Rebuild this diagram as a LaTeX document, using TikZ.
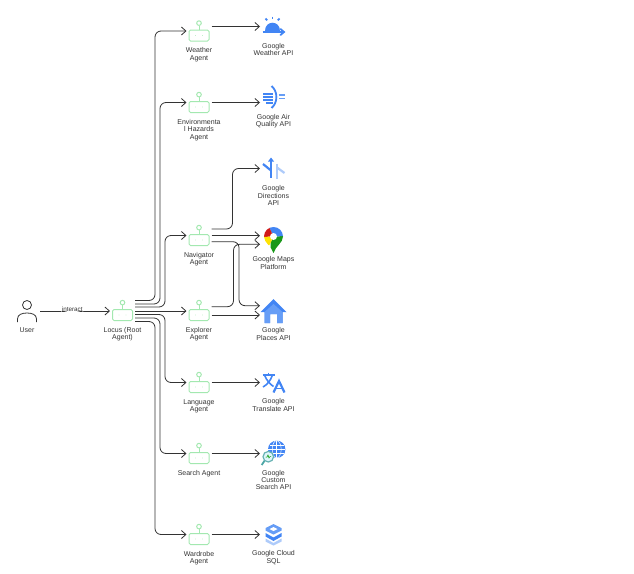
\documentclass[tikz,border=0pt]{standalone}
\usepackage{fontspec}
\setmainfont{Liberation Sans}
\usepackage{xcolor}
\usetikzlibrary{positioning,arrows.meta}
\definecolor{agentgreen}{HTML}{A3E8B0}
\definecolor{gblue}{HTML}{4285F4}
\definecolor{gmid}{HTML}{669DF6}
\definecolor{glight}{HTML}{AECBFA}
\definecolor{inkgrey}{HTML}{333333}

\begin{document}
\begin{tikzpicture}[
x=1pt, y=-1pt,
>={Straight Barb[length=4.5pt,width=8pt]},
agent/.style={rectangle, draw=agentgreen, line width=1pt, rounded corners=1.5pt, minimum width=20pt, minimum height=11pt, inner sep=0pt, outer xsep=2.5pt, outer ysep=0pt},
api/.style={rectangle, minimum width=27pt, minimum height=20pt, inner sep=0pt, outer sep=0pt},
lab/.style={align=center, inner sep=0pt, text=inkgrey, font=\fontsize{7}{7.4}\selectfont},
conn/.style={->, draw=inkgrey, line width=0.8pt, rounded corners=6pt},
icon/.style={line width=1.8pt, draw=gblue}
]
\useasboundingbox (0,0) rectangle (634,573);

\node[agent](locus) at (122.5,315){};
\node[api, minimum width=26pt](user)[left of = locus, node distance=95.5pt, yshift=4pt]{};
\node[agent](explorer)[right of = locus, node distance=76.5pt]{};
\node[agent](navigator)[above of = explorer, node distance=75pt]{};
\node[agent](enviro)[above of = navigator, node distance=133pt]{};
\node[agent](weather)[above of = enviro, node distance=71.5pt]{};
\node[agent](language)[below of = explorer, node distance=72pt]{};
\node[agent](search)[below of = language, node distance=71pt]{};
\node[agent](wardrobe)[below of = search, node distance=81pt]{};

\node[api](weather_api) at (273.5,26.5){};
\node[api](air_api)[below of = weather_api, node distance=70.5pt]{};
\node[api](directions_api)[below of = air_api, node distance=71.5pt]{};
\node[api](maps_api)[below of = directions_api, node distance=71.5pt]{};
\node[api](places_api)[below of = maps_api, node distance=71pt]{};
\node[api](translate_api)[below of = places_api, node distance=71.5pt]{};
\node[api](custom_api)[below of = translate_api, node distance=71pt]{};
\node[api](sql_api)[below of = custom_api, node distance=81pt]{};

\node[lab](user_lab)[below of = user, node distance=19pt]{User};
\node[lab](locus_lab)[below=6.5pt of locus]{Locus (Root\\Agent)};
\node[lab](weather_lab)[below=6.5pt of weather]{Weather\\Agent};
\node[lab](enviro_lab)[below=6.5pt of enviro]{Environmenta\\l Hazards\\Agent};
\node[lab](navigator_lab)[below=6.5pt of navigator]{Navigator\\Agent};
\node[lab](explorer_lab)[below=6.5pt of explorer]{Explorer\\Agent};
\node[lab](language_lab)[below=6.5pt of language]{Language\\Agent};
\node[lab](search_lab)[below=6.5pt of search]{Search Agent};
\node[lab](wardrobe_lab)[below=6.5pt of wardrobe]{Wardrobe\\Agent};

\node[lab](weather_api_lab)[below of = weather_api, node distance=23pt]{Google\\Weather API};
\node[lab](air_api_lab)[below of = air_api, node distance=24pt]{Google Air\\Quality API};
\node[lab](directions_api_lab)[below of = directions_api, node distance=27pt]{Google\\Directions\\API};
\node[lab](maps_api_lab)[below of = maps_api, node distance=23pt]{Google Maps\\Platform};
\node[lab](places_api_lab)[below of = places_api, node distance=23pt]{Google\\Places API};
\node[lab](translate_api_lab)[below of = translate_api, node distance=22.5pt]{Google\\Translate API};
\node[lab](custom_api_lab)[below of = custom_api, node distance=26.5pt]{Google\\Custom\\Search API};
\node[lab](sql_api_lab)[below of = sql_api, node distance=23pt]{Google Cloud\\SQL};

\foreach \a in {locus,weather,enviro,navigator,explorer,language,search,wardrobe}{
  \draw[agentgreen, line width=1pt] (\a.north) -- ++(0,-4.5);
  \draw[agentgreen, line width=1pt] ([yshift=6.9pt]\a.north) circle (2.3pt);
  \fill[agentgreen] ([xshift=-3.5pt]\a.center) circle (0.45pt);
  \fill[agentgreen] ([xshift=3.5pt]\a.center) circle (0.45pt);
}

\draw[conn] (user.east) -- node[lab, pos=0.46, name=interact_lab, fill=white, yshift=1.5pt, inner xsep=0.5pt, font=\fontsize{6.3}{7}\selectfont]{interact} ([yshift=4pt]locus.west);
\draw[conn] ([yshift=14.5pt]locus.east) -- ++(20,0) |- ([yshift=4.5pt]weather.west);
\draw[conn] ([yshift=11pt]locus.east) -- ++(25,0) |- ([yshift=4.5pt]enviro.west);
\draw[conn] ([yshift=8pt]locus.east) -- ++(30,0) |- ([yshift=4.5pt]navigator.west);
\draw[conn] ([yshift=4pt]locus.east) -- ([yshift=4pt]explorer.west);
\draw[conn] ([yshift=0.5pt]locus.east) -- ++(30,0) |- ([yshift=4.5pt]language.west);
\draw[conn] ([yshift=-3pt]locus.east) -- ++(25,0) |- ([yshift=4.5pt]search.west);
\draw[conn] ([yshift=-6.5pt]locus.east) -- ++(20,0) |- ([yshift=4.5pt]wardrobe.west);

\draw[conn] ([yshift=9pt]weather.east) -- (weather_api.west);
\draw[conn] ([yshift=4.5pt]enviro.east) -- ([yshift=-5.5pt]air_api.west);
\draw[conn] ([yshift=11pt]navigator.east) -- ++(21,0) |- (directions_api.west);
\draw[conn] ([yshift=4.3pt]navigator.east) -- ([yshift=4.3pt]maps_api.west);
\draw[conn] ([yshift=-1.7pt]navigator.east) -- ++(27.5,0) |- ([yshift=5.3pt]places_api.west);
\draw[conn] ([yshift=8.3pt]explorer.east) -- ++(22,0) |- ([yshift=-4.3pt]maps_api.west);
\draw[conn] (explorer.east) -- ([yshift=-4pt]places_api.west);
\draw[conn] ([yshift=4.5pt]language.east) -- (translate_api.west);
\draw[conn] ([yshift=4.5pt]search.east) -- (custom_api.west);
\draw[conn] ([yshift=4.5pt]wardrobe.east) -- (sql_api.west);

\begin{scope}[shift={(user)}]
\draw[inkgrey, line width=0.8pt] (0,-6) circle (4.5pt);
\draw[inkgrey, line width=0.8pt] (-9.5,11) -- (-9.5,8) .. controls (-9.5,3.5) and (-5,2) .. (0,2) .. controls (5,2) and (9.5,3.5) .. (9.5,8) -- (9.5,11);
\end{scope}

\begin{scope}[shift={(weather_api)}]
\fill[gblue] (-8.5,4) .. controls (-8.5,-7) and (6.5,-7) .. (6.5,4) -- cycle;
\draw[icon, line width=2pt] (-11,5.5) -- (10,5.5);
\draw[icon, line cap=round] (7,2.5) -- (10.5,5.5) -- (7,8.5);
\draw[icon] (-1,-10) -- (-1,-7.5);
\draw[icon] (-8,-8) -- (-6.3,-6.2);
\draw[icon] (6,-8) -- (4.3,-6.2);
\end{scope}

\begin{scope}[shift={(air_api)}]
\draw[icon, line width=1.4pt] (-10.5,-3) -- (-1,-3);
\draw[icon, line width=1.4pt] (-10.5,0) -- (-1,0);
\draw[icon, line width=1.4pt] (-10.5,3) -- (-1,3);
\draw[icon, line width=1.4pt] (-7.5,6) -- (-1,6);
\draw[icon] (-2,-11) .. controls (4.5,-6) and (4.5,6) .. (-2,11);
\draw[icon, line width=1.4pt, draw=gmid] (5,-2) -- (11,-2);
\draw[icon, line width=1.4pt, draw=gmid] (5,1.5) -- (11,1.5);
\end{scope}

\begin{scope}[shift={(directions_api)}]
\draw[icon, line width=2.2pt, draw=glight] (3.5,-5) -- (3.5,10.5);
\draw[icon, line width=2.2pt, draw=glight] (11,4.5) -- (3.5,-1);
\draw[icon, line width=2.2pt] (-2.5,-8) -- (-2.5,9);
\draw[icon, line width=2.2pt] (-10.5,-4.5) -- (-2.5,2);
\fill[gblue] (-2.5,-11) -- (0.5,-7) -- (-5.5,-7) -- cycle;
\end{scope}

\begin{scope}[shift={(maps_api)}]
\begin{scope}
\clip (0,13) .. controls (-2,6) and (-9.5,3) .. (-9.5,-3.5) .. controls (-9.5,-9) and (-5,-13) .. (0,-13) .. controls (5,-13) and (9.5,-9) .. (9.5,-3.5) .. controls (9.5,3) and (2,6) .. (0,13) -- cycle;
\fill[green!55!black!90!white] (12,-4) -- (0,-3.5) -- (-3,3) -- (-3,14) -- (12,14) -- cycle;
\fill[gblue] (-5,-14) -- (12,-14) -- (12,-4) -- (0,-3.5) -- cycle;
\fill[red!80!black!90!white] (-12,-14) -- (-5,-14) -- (0,-3.5) -- (-12,-3) -- cycle;
\fill[yellow!85!orange] (-12,-3) -- (0,-3.5) -- (-4,5) -- (-12,5) -- cycle;
\end{scope}
\fill[white] (0,-3.5) circle (3.5pt);
\end{scope}

\begin{scope}[shift={(places_api)}]
\fill[gblue] (0,-12) -- (13,1) -- (9,1) -- (9,12) -- (3.5,12) -- (3.5,3) -- (-3.5,3) -- (-3.5,12) -- (-9,12) -- (-9,1) -- (-13,1) -- cycle;
\fill[gmid] (0,-7) -- (9,1) -- (9,12) -- (3.5,12) -- (3.5,3) -- (-3.5,3) -- (-3.5,12) -- (-9,12) -- (-9,1) -- cycle;
\end{scope}

\begin{scope}[shift={(translate_api)}]
\draw[icon, line width=1.6pt] (-11,-7.5) -- (1,-7.5);
\draw[icon, line width=1.6pt] (-5,-10) -- (-5,-7.5);
\draw[icon, line width=1.6pt] (-9,-7.5) .. controls (-7,-2) and (-3,2) .. (0,4);
\draw[icon, line width=1.6pt] (-1,-7.5) .. controls (-3,-2) and (-6,2) .. (-10.5,4.5);
\draw[icon, line width=2.2pt] (0,10) -- (5.5,-1.5) -- (11,10);
\draw[icon, line width=1.6pt] (2,6) -- (9,6);
\end{scope}

\begin{scope}[shift={(custom_api)}]
\fill[gblue] (3.2,-4.2) circle (8.7pt);
\draw[white, line width=0.5pt] (3.2,-12.9) -- (3.2,4.5);
\draw[white, line width=0.5pt] (3.2,-4.2) ellipse (4.5pt and 8.7pt);
\draw[white, line width=0.5pt] (-5.5,-4.2) -- (11.9,-4.2);
\draw[white, line width=0.5pt] (-4,-8.5) -- (10.4,-8.5);
\draw[white, line width=0.5pt] (-4,0.1) -- (10.4,0.1);
\draw[teal!70!white, line width=1.8pt] (-8.5,6.5) -- (-11.8,11.5);
\draw[teal!60!white, fill=cyan!12, line width=1.2pt] (-5.2,3.2) circle (5.3pt);
\draw[green!60!black, line width=0.5pt] (-8,3.5) -- (-6.5,3.5) -- (-5.5,1.5) -- (-4.5,4.5) -- (-3.5,3) -- (-2.5,3);
\end{scope}

\begin{scope}[shift={(sql_api)}]
\fill[gmid] (0,-10.5) -- (8,-6.5) -- (8,-4) -- (0,0) -- (-8,-4) -- (-8,-6.5) -- cycle;
\fill[white] (0,-7.5) -- (4,-5.5) -- (0,-3.5) -- (-4,-5.5) -- cycle;
\fill[gblue] (-8,-1.5) -- (0,3) -- (8,-1.5) -- (8,2) -- (0,6.5) -- (-8,2) -- cycle;
\fill[glight] (-8,4) -- (0,8.5) -- (8,4) -- (8,7) -- (0,11) -- (-8,7) -- cycle;
\end{scope}

\end{tikzpicture}
\end{document}
